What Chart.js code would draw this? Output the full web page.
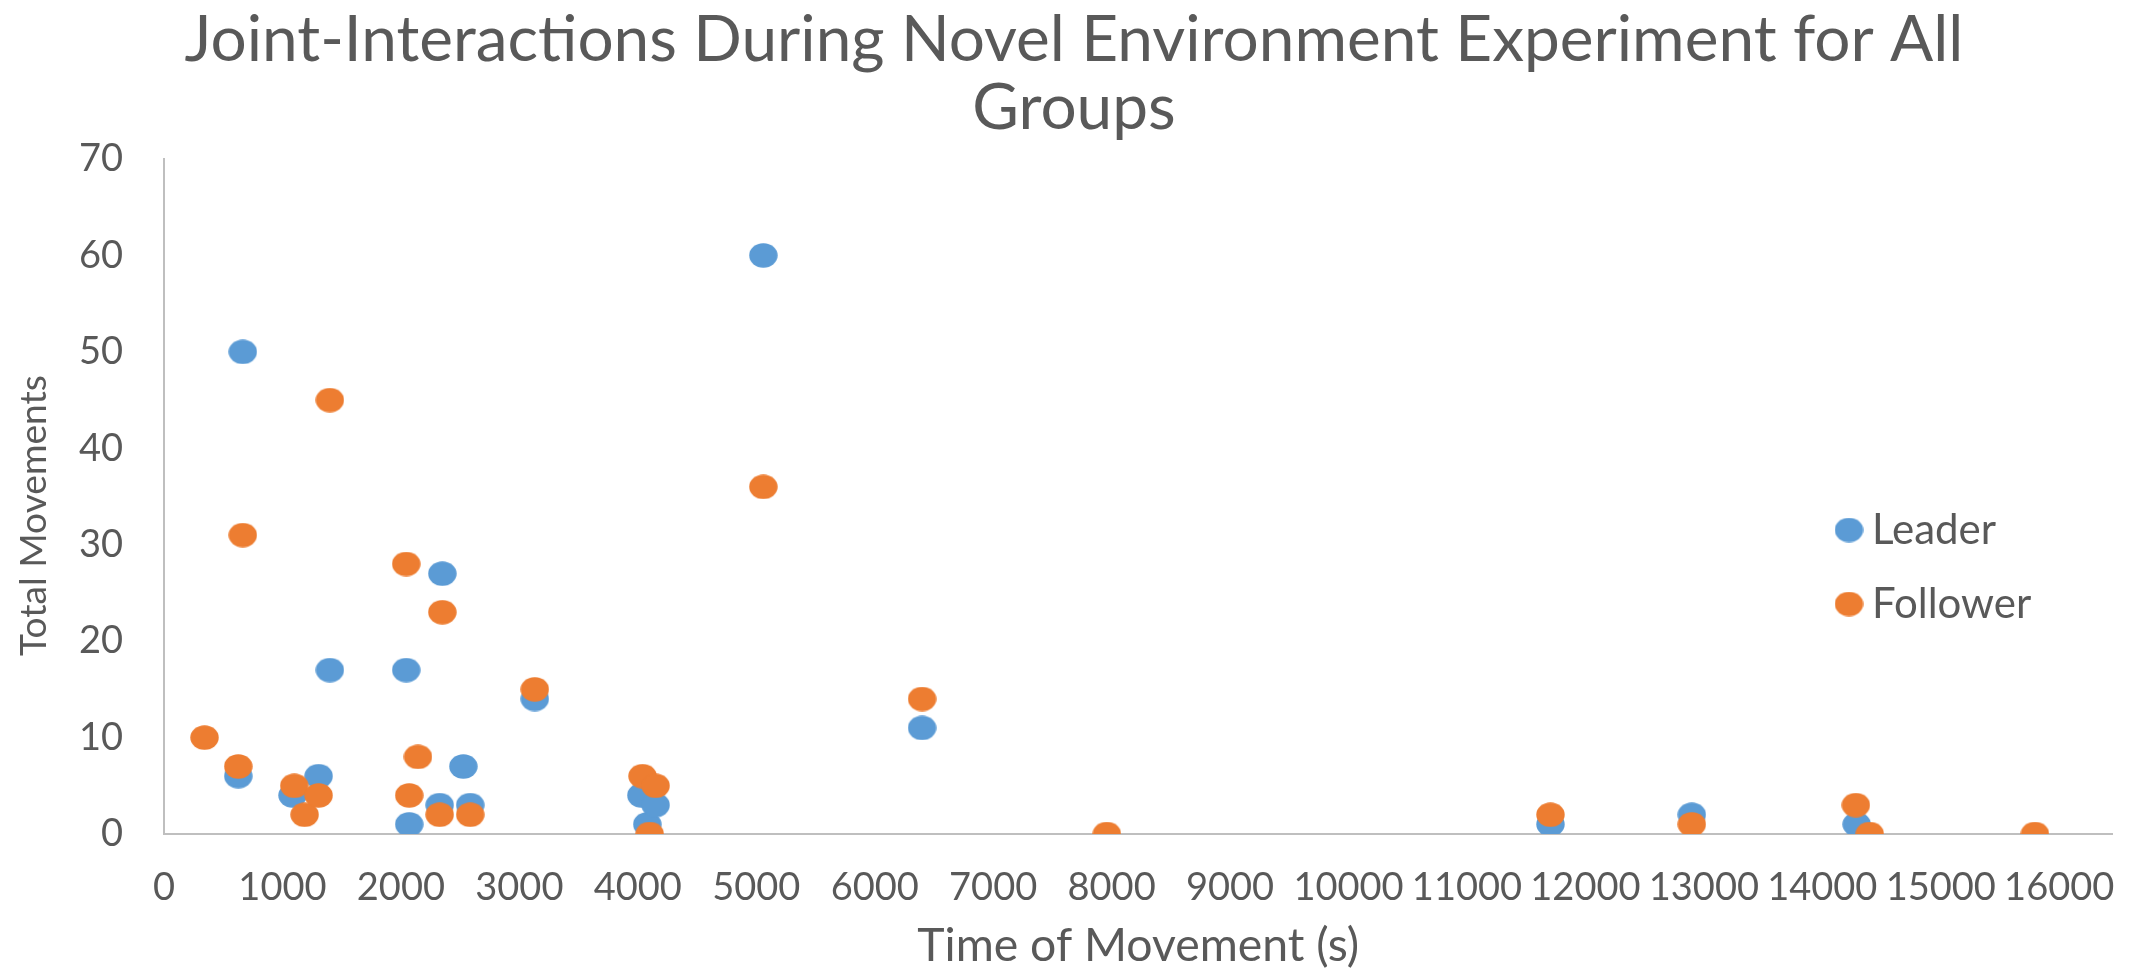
<!DOCTYPE html>
<html>
<head>
<meta charset="utf-8">
<script src="https://cdn.jsdelivr.net/npm/chart.js@4.4.0/dist/chart.umd.min.js"></script>
<style>
html,body{margin:0;padding:0;background:#ffffff;}
#wrap{width:2146px;height:974px;position:relative;}
canvas{display:block;}
</style>
</head>
<body>
<div id="wrap"><canvas id="c" width="2146" height="974"></canvas></div>
<script>
// ---- data ----
const seriesNames = ['Leader', 'Follower'];
const leaderTime  = [627, 665, 1085, 1305, 1400, 2045, 2070, 2327, 2350, 2527, 2585, 3130, 4030, 4080, 4150, 5060, 6400, 11705, 12898, 14290];
const leaderMoves = [6, 50, 4, 6, 17, 17, 1, 3, 27, 7, 3, 14, 4, 1, 3, 60, 11, 1, 2, 1];
const followerTime  = [342, 627, 665, 1100, 1187, 1305, 1400, 2045, 2070, 2144, 2327, 2350, 2585, 3130, 4040, 4100, 4150, 5060, 6400, 7960, 11705, 12898, 14283, 14400, 15795];
const followerMoves = [10, 7, 31, 5, 2, 4, 45, 28, 4, 8, 2, 23, 2, 15, 6, 0, 5, 36, 14, 0, 2, 1, 3, 0, 0];
const xTickValues = [0, 1000, 2000, 3000, 4000, 5000, 6000, 7000, 8000, 9000, 10000, 11000, 12000, 13000, 14000, 15000, 16000];
const yTickValues = [0, 10, 20, 30, 40, 50, 60, 70];
const titleLines = ['Joint-Interactions During Novel Environment Experiment for All', 'Groups'];
const xAxisTitle = 'Time of Movement (s)';
const yAxisTitle = 'Total Movements';
const xRange = [0, 16450];
const yRange = [0, 70];

// ---- styling ----
const FAMILY = 'Lato, "Open Sans", sans-serif';
const TEXT = '#595959';
const AXIS = '#BFBFBF';
const BLUE = '#5B9BD5';
const ORANGE = '#ED7D31';

const measureCtx = document.createElement('canvas').getContext('2d');
function textWidth(text, size, weight) {
  measureCtx.font = (weight || 'normal') + ' ' + size + 'px ' + FAMILY;
  return measureCtx.measureText(text).width;
}
function fitFont(text, width, weight) { return 100 * width / textWidth(text, 100, weight); }

const TITLE_WEIGHT = 'normal';
const titleSize = fitFont(titleLines[0], 1779, TITLE_WEIGHT);
const xTitleSize = fitFont(xAxisTitle, 442);
const yTitleSize = fitFont(yAxisTitle, 281);
const legendSize = Math.round(fitFont('Follower', 160));
const tickSize = 38;

const titleLH = 68;
const tPadTop = Math.max(0, 40.6 - titleLH / 2);
const tPadBottom = 159 - tPadTop - 2 * titleLH;

const xTitleLH = xTitleSize * 1.2;

const PAD_L = 27, PAD_R = 25;
// rotated y title centred at x = 34
const yTitleLH = 2 * (34 - PAD_L);

// shift the rotated y title down ~20px (trailing spaces are centred with it)
const spaceW = textWidth(' ', yTitleSize);
const yTitleText = yAxisTitle + ' '.repeat(Math.max(0, Math.round(41 / spaceW)));

const legendPad = 74 - legendSize;
const legendBoxW = 4;

function ellipseMarker(color) {
  const w = 29, h = 25;
  const cv = document.createElement('canvas');
  cv.width = w; cv.height = h;
  const g = cv.getContext('2d');
  g.fillStyle = color;
  g.beginPath();
  g.ellipse(w / 2, h / 2, w / 2 - 0.3, h / 2 - 0.3, 0, 0, Math.PI * 2);
  g.fill();
  return cv;
}
const blueMarker = ellipseMarker(BLUE);
const orangeMarker = ellipseMarker(ORANGE);

const toPts = (xs, ys) => xs.map((x, i) => ({x: x, y: ys[i]}));

const legendMover = {
  id: 'legendMover',
  afterLayout(chart) {
    const lg = chart.legend;
    if (!lg) return;
    const left = 1849 - legendBoxW / 2 - legendPad;
    const top = 530 - legendSize / 2 - legendPad;
    lg.left = left; lg.width = 300; lg.right = left + 300;
    lg.top = top; lg.height = 220; lg.bottom = top + 220;
  }
};

new Chart(document.getElementById('c'), {
  type: 'scatter',
  data: {
    datasets: [
      {
        label: seriesNames[0],
        data: toPts(leaderTime, leaderMoves),
        backgroundColor: BLUE,
        borderColor: BLUE,
        borderWidth: 0,
        pointRadius: 13,
        pointHoverRadius: 13,
        pointStyle: blueMarker,
        order: 1
      },
      {
        label: seriesNames[1],
        data: toPts(followerTime, followerMoves),
        backgroundColor: ORANGE,
        borderColor: ORANGE,
        borderWidth: 0,
        pointRadius: 13,
        pointHoverRadius: 13,
        pointStyle: orangeMarker,
        order: 0
      }
    ]
  },
  options: {
    responsive: false,
    maintainAspectRatio: false,
    devicePixelRatio: 1,
    animation: false,
    events: [],
    layout: { padding: { left: PAD_L, right: PAD_R, top: 0, bottom: 0 } },
    scales: {
      x: {
        type: 'linear',
        min: xRange[0],
        max: xRange[1],
        border: { display: true, color: AXIS, width: 2 },
        grid: { display: false, drawTicks: false },
        afterBuildTicks: (s) => { s.ticks = xTickValues.map(v => ({ value: v })); },
        ticks: {
          autoSkip: false,
          maxRotation: 0,
          minRotation: 0,
          padding: 31,
          color: TEXT,
          font: { family: FAMILY, size: tickSize },
          callback: (v) => String(v)
        },
        title: {
          display: true,
          text: xAxisTitle,
          color: TEXT,
          font: { family: FAMILY, size: xTitleSize, lineHeight: 1.2 },
          padding: { top: 0, bottom: Math.max(0, 27 - xTitleLH / 2) }
        },
        afterFit: (s) => { s.height = 140; }
      },
      y: {
        type: 'linear',
        min: yRange[0],
        max: yRange[1],
        border: { display: true, color: AXIS, width: 2 },
        grid: { display: false, drawTicks: false },
        afterBuildTicks: (s) => { s.ticks = yTickValues.map(v => ({ value: v })); },
        ticks: {
          padding: 41,
          color: TEXT,
          font: { family: FAMILY, size: tickSize },
          callback: (v) => String(v)
        },
        title: {
          display: true,
          text: yTitleText,
          color: TEXT,
          font: { family: FAMILY, size: yTitleSize, lineHeight: yTitleLH / yTitleSize },
          padding: { top: 0, bottom: 0 }
        },
        afterFit: (s) => { s.width = 164 - PAD_L; }
      }
    },
    plugins: {
      title: {
        display: true,
        text: titleLines,
        color: TEXT,
        font: { family: FAMILY, size: titleSize, weight: TITLE_WEIGHT, lineHeight: titleLH / titleSize },
        padding: { top: tPadTop, bottom: tPadBottom }
      },
      legend: {
        display: true,
        position: 'chartArea',
        align: 'start',
        labels: {
          usePointStyle: true,
          boxWidth: legendBoxW,
          boxHeight: 18,
          padding: legendPad,
          color: TEXT,
          font: { family: FAMILY, size: legendSize },
          sort: (a, b) => a.datasetIndex - b.datasetIndex
        }
      },
      tooltip: { enabled: false }
    }
  },
  plugins: [legendMover]
});
</script>
</body>
</html>
